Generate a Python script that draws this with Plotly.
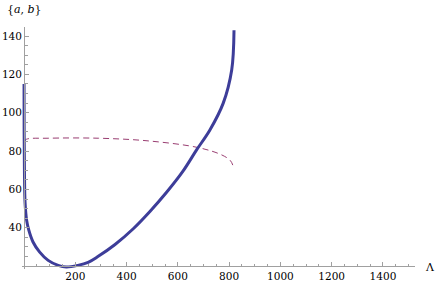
import plotly.graph_objects as go

# Data
blue_x = [0, 0.4, 1.5, 4, 10, 18, 35, 61, 94, 133, 165, 210, 250, 288, 355, 426, 491, 556, 620, 673, 725, 777, 810, 819]
blue_y = [115, 90, 70, 53, 44, 39, 32.6, 27.3, 23.0, 20.4, 19.5, 20.4, 22.0, 25.0, 31.3, 39.5, 48.5, 58.5, 69.5, 80.6, 91, 105, 122.3, 143]

dash_x = [0, 10, 95, 290, 485, 680, 771, 805, 816]
dash_y = [85, 86.2, 86.7, 86.7, 85.3, 81.8, 78, 75, 72]

x_ticks = [200, 400, 600, 800, 1000, 1200, 1400]
y_ticks = [40, 60, 80, 100, 120, 140]

XMIN, XMAX = -8, 1525
YMIN, YMAX = 18.5, 144.7
X_CROSS, Y_CROSS = 0, 20

SERIF = "DejaVu Serif"

fig = go.Figure()
fig.add_trace(go.Scatter(x=dash_x, y=dash_y, mode="lines", line_shape="spline",
                         line=dict(color="#993d71", width=1, dash="6px,4px"),
                         showlegend=False, hoverinfo="skip"))
fig.add_trace(go.Scatter(x=blue_x, y=blue_y, mode="lines", line_shape="spline",
                         line=dict(color="#3d3d99", width=3),
                         showlegend=False, hoverinfo="skip"))

axis_col = "#a0a0a0"
tickfont = dict(family=SERIF, size=10.5, color="black")

fig.update_layout(
    width=436, height=285,
    margin=dict(l=22, r=21, t=27, b=16, autoexpand=False),
    paper_bgcolor="white", plot_bgcolor="white",
    font=dict(family=SERIF, size=10.5, color="black"),
    xaxis=dict(range=[XMIN, XMAX], showgrid=False, zeroline=False, automargin=False,
               showline=True, linecolor=axis_col, linewidth=1,
               anchor="free", position=(Y_CROSS - YMIN) / (YMAX - YMIN),
               tickvals=x_ticks, ticktext=[str(v) for v in x_ticks],
               ticks="inside", ticklen=4, tickcolor=axis_col, tickfont=tickfont,
               minor=dict(tick0=0, dtick=50, ticks="inside", ticklen=2.5, tickcolor=axis_col)),
    yaxis=dict(range=[YMIN, YMAX], showgrid=False, zeroline=False, automargin=False,
               showline=True, linecolor=axis_col, linewidth=1,
               anchor="free", position=(X_CROSS - XMIN) / (XMAX - XMIN),
               tickvals=y_ticks, ticktext=[str(v) for v in y_ticks],
               ticks="inside", ticklen=4, tickcolor=axis_col, tickfont=tickfont,
               minor=dict(tick0=0, dtick=5, ticks="inside", ticklen=2.5, tickcolor=axis_col)),
    annotations=[
        dict(text="{<i>a</i>, <i>b</i>}", xref="paper", yref="paper",
             x=(24 - 22) / 393, y=1 + (27 - 9) / 242, xanchor="center", yanchor="middle",
             showarrow=False, font=dict(family=SERIF, size=11, color="black")),
        dict(text="Λ", xref="paper", yref="paper",
             x=(430 - 22) / 393, y=(269 - 267) / 242, xanchor="center", yanchor="middle",
             showarrow=False, font=dict(family=SERIF, size=11, color="black")),
    ],
)

fig.write_html("out.html", config={"displayModeBar": False},
               post_script="document.body.style.margin='0';document.body.style.padding='0';")
